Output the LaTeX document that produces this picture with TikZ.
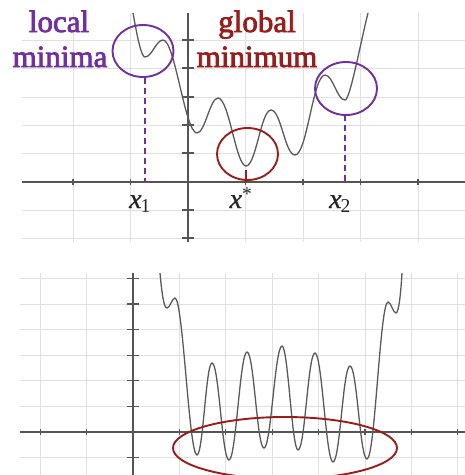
\documentclass[tikz,border=0pt]{standalone}
\usepackage{fontspec}
\setmainfont{Liberation Serif}
\newfontface\semifont{Liberation Serif}[FakeBold=2.5]
\newfontface\semiitfont{Liberation Serif Italic}[FakeBold=0.7]
\definecolor{lpurple}{HTML}{7030A0}
\definecolor{dred}{HTML}{981E1E}
\definecolor{gridc}{HTML}{E0E0E0}
\definecolor{axisc}{HTML}{555555}
\definecolor{curvec}{HTML}{5A5A5A}
\begin{document}
\begin{tikzpicture}[x=1pt,y=-1pt,
  gridline/.style={draw=gridc,line width=1pt},
  axisline/.style={draw=axisc,line width=1.2pt},
  curveline/.style={draw=curvec,line width=1.3pt},
  purpring/.style={draw=lpurple,line width=1.9pt},
  redring/.style={draw=dred,line width=1.9pt},
  dropline/.style={draw=lpurple,line width=2pt,dash pattern=on 6pt off 4pt},
  purptext/.style={text=lpurple,font=\fontsize{31}{31}\semifont,anchor=base,inner sep=0pt},
  redtext/.style={text=dred,font=\fontsize{31}{31}\semifont,anchor=base,inner sep=0pt},
  mathlabel/.style={text=black!85,font=\fontsize{28}{28}\selectfont,anchor=base,inner sep=0pt}]
\useasboundingbox (0,0) rectangle (465,475);
\fill[white] (0,0) rectangle (465,475);
% ---------- top plot grid ----------
\foreach \x in {73,130.5,245.5,303,360.5,418}
  \draw[gridline] (\x,13) -- (\x,242);
\foreach \y in {40,68,97,125,153,210,238}
  \draw[gridline] (22,\y) -- (465,\y);
\draw[axisline] (22,182) -- (465,182);
\draw[axisline] (188,13) -- (188,242);
\foreach \x in {73,130.5,245.5,303,360.5,418}
  \draw[axisline] (\x,179) -- (\x,185);
\foreach \y in {40,68,97,125,153,210,238}
  \draw[axisline] (182,\y) -- (194,\y);
% ---------- bottom plot grid ----------
\foreach \x in {40.2,86.6,179.4,225.8,272.2,318.6,365,411.4,457.8}
  \draw[gridline] (\x,273) -- (\x,475);
\foreach \y in {278.4,304,329.6,355.2,380.8,406.4,457.6}
  \draw[gridline] (20,\y) -- (465,\y);
\draw[axisline] (20,432) -- (465,432);
\draw[axisline] (133,273) -- (133,475);
\foreach \x in {40.2,86.6,179.4,225.8,272.2,318.6,365,411.4,457.8}
  \draw[axisline] (\x,429) -- (\x,435);
\foreach \y in {278.4,304,329.6,355.2,380.8,406.4,457.6}
  \draw[axisline] (127,\y) -- (139,\y);
% ---------- top curve ----------
\draw[curveline] (133,13) .. controls (137,35) and (141,57) .. (145,57)
 .. controls (152,57) and (156,40) .. (163,40)
 .. controls (175,40) and (185,133) .. (197,133)
 .. controls (205,133) and (210,98) .. (218,98)
 .. controls (229,98) and (236,166) .. (246,166)
 .. controls (256,166) and (261,110) .. (271,110)
 .. controls (281,110) and (285,155) .. (295,155)
 .. controls (307,155) and (313,75) .. (325,75)
 .. controls (333,75) and (337,100) .. (345,100)
 .. controls (350,100) and (360,45) .. (368,13);
% ---------- bottom curve ----------
\draw[curveline] (160,273) .. controls (162,295) and (164,308) .. (167,308)
 .. controls (170,308) and (172,298) .. (175,298)
 .. controls (183,298) and (189,455) .. (197,455)
 .. controls (203,455) and (206,363) .. (212,363)
 .. controls (219,363) and (222,460) .. (229,460)
 .. controls (236,460) and (240,352) .. (247,352)
 .. controls (254,352) and (257,448) .. (264,448)
 .. controls (271,448) and (275,346) .. (282,346)
 .. controls (288,346) and (292,450) .. (298,450)
 .. controls (305,450) and (308,353) .. (315,353)
 .. controls (322,353) and (326,462) .. (333,462)
 .. controls (340,462) and (343,366) .. (350,366)
 .. controls (357,366) and (360,459) .. (367,459)
 .. controls (375,459) and (380,302) .. (388,302)
 .. controls (391,302) and (393,313) .. (396,313)
 .. controls (399,313) and (401,290) .. (402,273);
% ---------- markers ----------
\coordinate (xa) at (144.5,78);
\coordinate (xaa) at (144.5,182);
\coordinate (xb) at (345,115);
\coordinate (xbb) at (345,182);
\coordinate (xs) at (246,170);
\coordinate (xss) at (246,182);
\draw[dropline] (xa) -- (xaa);
\draw[dropline] (xb) -- (xbb);
\draw[draw=dred,line width=1.6pt] (xs) -- (xss);
\draw[purpring] (143,51) ellipse [x radius=30.5pt, y radius=26pt];
\draw[purpring] (346,88.5) ellipse [x radius=31pt, y radius=26.5pt];
\draw[redring] (247.5,154) ellipse [x radius=30.5pt, y radius=26pt];
\draw[redring] (285,448) ellipse [x radius=112pt, y radius=31pt];
% ---------- text ----------
\node[purptext] (loc) at (59,32) {local};
\node[purptext] (minis) at (60,67) {minima};
\node[redtext] (glob) at (257,32) {global};
\node[redtext] (minim) at (257,67) {minimum};
\node[mathlabel] (l1) at (140,208) {{\semiitfont x}\textsubscript{\kern-1pt 1}};
\node[mathlabel] (ls) at (241,208) {{\semiitfont x}\raisebox{-2pt}{\textsuperscript{*}}};
\node[mathlabel] (l2) at (340,208) {{\semiitfont x}\textsubscript{\kern-1pt 2}};
\end{tikzpicture}
\end{document}
